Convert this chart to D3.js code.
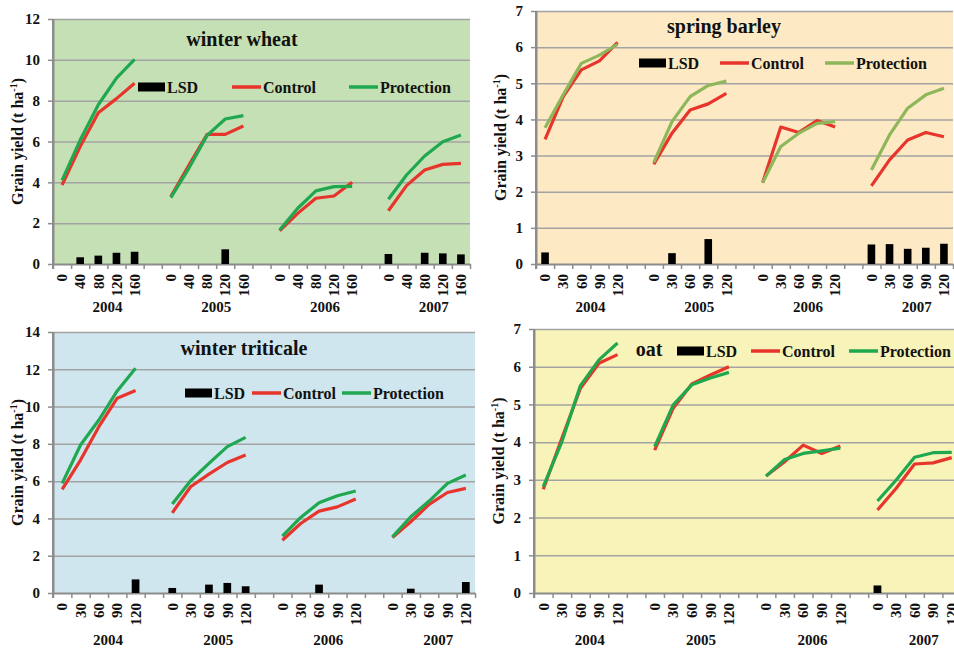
<!DOCTYPE html>
<html><head><meta charset="utf-8">
<script src="https://cdn.jsdelivr.net/npm/d3@7"></script>
<style>
body{margin:0;background:#fff}
svg{display:block}
text{font-family:"Liberation Serif","Times New Roman",serif;font-weight:bold;fill:#111}
</style>
</head><body>
<svg id="chart" width="954" height="652"></svg>
<script>
// ---------- DATA ----------
const years = ["2004", "2005", "2006", "2007"];
const wheatDoses = ["0", "40", "80", "120", "160"];
const otherDoses = ["0", "30", "60", "90", "120"];

const wheatControl    = [3.87,5.75,7.41,8.10,8.85, 3.30,4.85,6.35,6.35,6.76, 1.63,2.48,3.22,3.33,4.00, 2.61,3.84,4.60,4.88,4.93];
const wheatProtection = [4.10,6.07,7.80,9.10,10.02, 3.25,4.70,6.30,7.10,7.27, 1.67,2.73,3.58,3.79,3.80, 3.17,4.36,5.29,5.99,6.32];
const wheatLSD        = [null,0.33,0.41,0.55,0.60, null,null,null,0.72,null, null,null,null,null,null, 0.49,null,0.55,0.52,0.47];

const barleyControl    = [3.45,4.63,5.37,5.62,6.13, 2.76,3.62,4.26,4.43,4.72, 2.25,3.79,3.64,3.97,3.79, 2.16,2.88,3.43,3.64,3.52];
const barleyProtection = [3.77,4.68,5.55,5.78,6.08, 2.81,3.94,4.63,4.94,5.06, 2.25,3.25,3.62,3.89,3.94, 2.60,3.57,4.31,4.68,4.86];
const barleyLSD        = [0.32,null,null,null,null, null,0.30,null,0.69,null, null,null,null,null,null, 0.54,0.55,0.42,0.45,0.56];

const triticaleControl    = [5.56,7.13,8.92,10.45,10.86, 4.30,5.70,6.38,7.00,7.40, 2.83,3.73,4.39,4.62,5.04, 2.97,3.82,4.75,5.39,5.61];
const triticaleProtection = [5.88,7.94,9.28,10.84,12.06, 4.77,6.02,6.95,7.85,8.35, 3.05,4.05,4.84,5.22,5.47, 3.01,4.09,4.93,5.88,6.33];
const triticaleLSD        = [null,null,null,null,0.73, 0.27,null,0.45,0.54,0.36, null,null,0.45,null,null, null,0.23,null,null,0.59];

const oatControl    = [2.75,4.10,5.43,6.09,6.32, 3.79,4.90,5.54,5.78,6.00, 3.10,3.48,3.92,3.70,3.90, 2.20,2.77,3.42,3.45,3.59];
const oatProtection = [2.82,4.01,5.50,6.18,6.63, 3.88,4.99,5.52,5.70,5.85, 3.10,3.54,3.70,3.77,3.84, 2.44,2.99,3.60,3.72,3.73];
const oatLSD        = [null,null,null,null,null, null,null,null,null,null, null,null,null,null,null, 0.20,null,null,null,null];

const legendLabels = ["LSD", "Control", "Protection"];
const yAxisTitle = "Grain yield (t ha";

// ---------- LAYOUT / STYLE ----------
const RED = "#e8352c";
const panels = [
  {title:"winter wheat", doses:wheatDoses, control:wheatControl, protection:wheatProtection, lsd:wheatLSD,
   yMax:12, yStep:2, bg:"#c5e0b4", prot:"#1fa84f",
   box:{l:53,r:470,t:19,b:264}, titleX:242, titleY:46,
   leg:{y:87, lsd:138, ctrl:232, prot:349}, yearDy:48},
  {title:"spring barley", doses:otherDoses, control:barleyControl, protection:barleyProtection, lsd:barleyLSD,
   yMax:7, yStep:1, bg:"#fde9c3", prot:"#8db75a",
   box:{l:536,r:953,t:11,b:264}, titleX:724, titleY:33,
   leg:{y:63, lsd:639, ctrl:720, prot:825}, yearDy:48},
  {title:"winter triticale", doses:otherDoses, control:triticaleControl, protection:triticaleProtection, lsd:triticaleLSD,
   yMax:14, yStep:2, bg:"#cfe6ee", prot:"#1fa84f",
   box:{l:53,r:475,t:332,b:593}, titleX:244, titleY:355,
   leg:{y:393, lsd:185, ctrl:252, prot:342}, yearDy:52},
  {title:"oat", doses:otherDoses, control:oatControl, protection:oatProtection, lsd:oatLSD,
   yMax:7, yStep:1, bg:"#f8f3b9", prot:"#1fa84f",
   box:{l:534,r:961,t:329,b:593}, titleX:649, titleY:356, titleInLegend:true,
   leg:{y:351, lsd:677, ctrl:751, prot:849}, yearDy:52}
];

const svg = d3.select("#chart");
const nCat = 23; // 4 groups of 5 + 3 blank gaps

panels.forEach(p => {
  const g = svg.append("g");
  const {l, r, t, b} = p.box;

  // category index of each data point
  const catIndex = (i) => Math.floor(i / 5) * 6 + (i % 5);
  const x = d3.scaleBand().domain(d3.range(nCat)).range([l, r]).padding(0);
  const xb = d3.scaleLinear().domain([0, nCat]).range([l, r]);
  const y = d3.scaleLinear().domain([0, p.yMax]).range([b, t]);
  const cx = i => x(catIndex(i)) + x.bandwidth() / 2;

  // plot background
  g.append("rect").attr("x", l).attr("y", t).attr("width", r - l).attr("height", b - t).attr("fill", p.bg);

  // gridlines
  const yTicks = d3.range(0, p.yMax + 0.001, p.yStep);
  const grid = g.append("g").attr("transform", `translate(${l},0)`)
    .call(d3.axisLeft(y).tickValues(yTicks.filter(v => v > 0)).tickSize(-(r - l)).tickFormat(""));
  grid.select(".domain").remove();
  grid.selectAll("line").attr("stroke", "#a3a3a3").attr("stroke-width", 1.5);

  // y axis
  const ya = g.append("g").attr("transform", `translate(${l},0)`)
    .call(d3.axisLeft(y).tickValues(yTicks).tickSize(5).tickPadding(8).tickSizeOuter(0).tickFormat(d3.format("d")));
  ya.select(".domain").attr("stroke", "#8c8c8c").attr("stroke-width", 2);
  ya.selectAll("line").attr("stroke", "#8c8c8c").attr("stroke-width", 1.5);
  ya.selectAll("text").attr("font-size", 15).attr("font-family", '"Liberation Serif",serif').attr("font-weight", "bold").attr("fill", "#111");

  // x axis (boundary ticks)
  const xa = g.append("g").attr("transform", `translate(0,${b})`)
    .call(d3.axisBottom(xb).tickValues(d3.range(0, nCat + 1)).tickSize(5).tickSizeOuter(0).tickFormat(""));
  xa.select(".domain").attr("stroke", "#8c8c8c").attr("stroke-width", 2);
  xa.selectAll("line").attr("stroke", "#8c8c8c").attr("stroke-width", 1.5);

  // y axis line extension
  g.append("line").attr("x1", l).attr("x2", l).attr("y1", t).attr("y2", b + 5).attr("stroke", "#8c8c8c").attr("stroke-width", 2);

  // x tick labels (rotated)
  const labels = [];
  years.forEach((yr, gi) => p.doses.forEach((d, di) => labels.push({i: gi * 5 + di, text: d})));
  g.selectAll(".xl").data(labels).enter().append("text")
    .attr("transform", d => `translate(${cx(d.i)},${b + 10}) rotate(-90)`)
    .attr("text-anchor", "end").attr("dy", "0.35em")
    .attr("font-size", 15).text(d => d.text);

  // year labels
  g.selectAll(".yr").data(years).enter().append("text")
    .attr("x", (d, gi) => xb(gi * 6 + 3)).attr("y", b + p.yearDy)
    .attr("text-anchor", "middle").attr("font-size", 15).text(d => d);

  // LSD bars
  const bw = x.bandwidth() * 0.42;
  const bars = p.lsd.map((v, i) => ({i, v})).filter(d => d.v != null);
  g.selectAll(".bar").data(bars).enter().append("rect")
    .attr("x", d => cx(d.i) - bw / 2).attr("width", bw)
    .attr("y", d => y(d.v)).attr("height", d => y(0) - y(d.v)).attr("fill", "#000");

  // lines per year segment
  const line = d3.line().x(d => cx(d.i)).y(d => y(d.v));
  [[p.control, RED], [p.protection, p.prot]].forEach(([vals, col]) => {
    years.forEach((yr, gi) => {
      const seg = d3.range(5).map(k => ({i: gi * 5 + k, v: vals[gi * 5 + k]}));
      g.append("path").datum(seg).attr("d", line).attr("fill", "none")
        .attr("stroke", col).attr("stroke-width", 3.2).attr("stroke-linejoin", "round");
    });
  });

  // title
  g.append("text").attr("x", p.titleX).attr("y", p.titleY).attr("text-anchor", "middle")
    .attr("font-size", 20).text(p.title);

  // legend
  const L = p.leg;
  g.append("rect").attr("x", L.lsd).attr("y", L.y - 4.5).attr("width", 27).attr("height", 9).attr("fill", "#000");
  g.append("text").attr("x", L.lsd + 29).attr("y", L.y + 5.5).attr("font-size", 16).text(legendLabels[0]);
  g.append("line").attr("x1", L.ctrl).attr("x2", L.ctrl + 29).attr("y1", L.y).attr("y2", L.y)
    .attr("stroke", RED).attr("stroke-width", 3.5);
  g.append("text").attr("x", L.ctrl + 31).attr("y", L.y + 5.5).attr("font-size", 16).text(legendLabels[1]);
  g.append("line").attr("x1", L.prot).attr("x2", L.prot + 29).attr("y1", L.y).attr("y2", L.y)
    .attr("stroke", p.prot).attr("stroke-width", 3.5);
  g.append("text").attr("x", L.prot + 31).attr("y", L.y + 5.5).attr("font-size", 16).text(legendLabels[2]);

  // y axis title
  const yt = g.append("text")
    .attr("transform", `translate(${l - 30},${(t + b) / 2}) rotate(-90)`)
    .attr("text-anchor", "middle").attr("font-size", 16);
  yt.append("tspan").text(yAxisTitle);
  yt.append("tspan").attr("font-size", 10).attr("dy", "-0.6em").text("-1");
  yt.append("tspan").attr("dy", "0.38em").text(")");
});
</script>
</body></html>
